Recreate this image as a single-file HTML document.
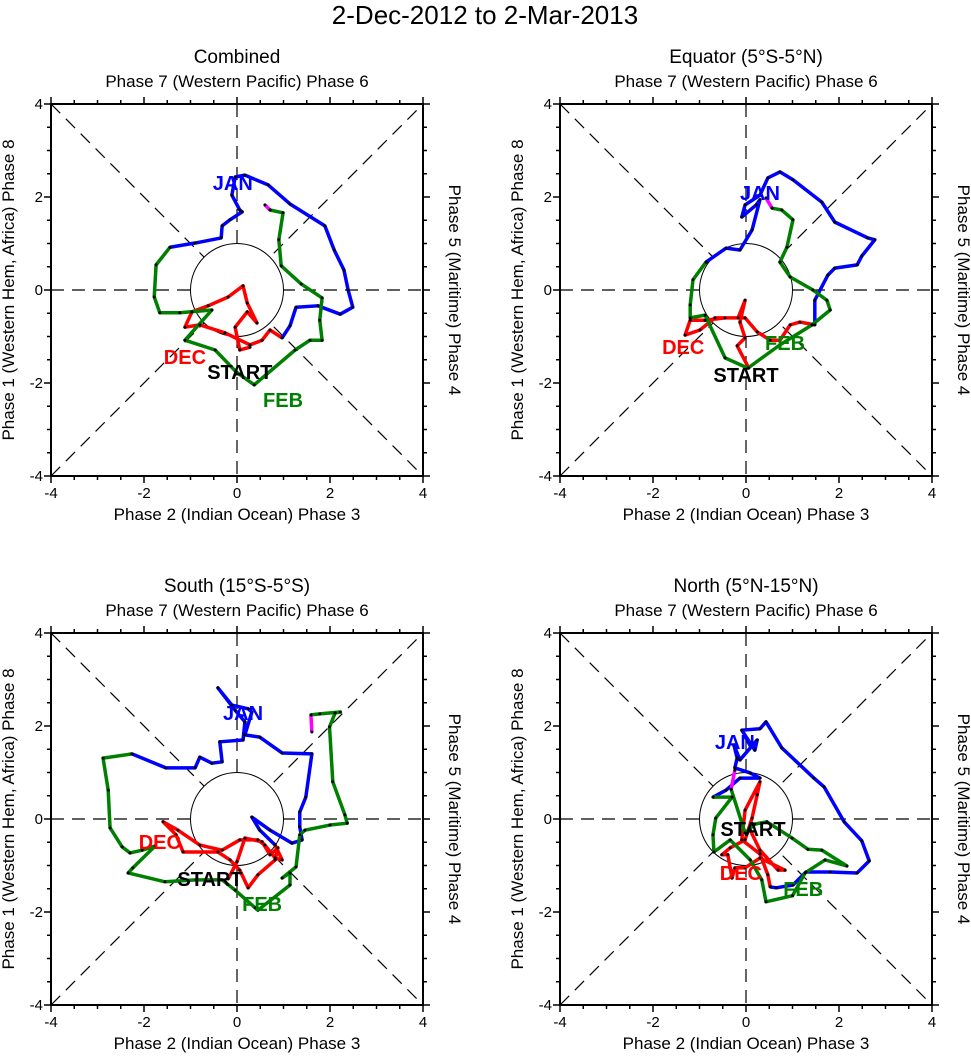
<!DOCTYPE html>
<html><head><meta charset="utf-8">
<style>
html,body{margin:0;padding:0;background:#fff;}
svg{display:block;font-family:"Liberation Sans",Arial,sans-serif;}
</style></head>
<body>
<svg id="chart" width="971" height="1057" viewBox="0 0 971 1057" xmlns="http://www.w3.org/2000/svg">
<text x="485" y="24" font-size="26" text-anchor="middle">2-Dec-2012 to 2-Mar-2013</text>
</svg>
<script>
// ---- data (RMM1, RMM2) per panel & month ----
const panelTitles = ["Combined","Equator (5°S-5°N)","South (15°S-5°S)","North (5°N-15°N)"];
const tickValues = [-4,-2,0,2,4];
const monthNames = ["DEC","JAN","FEB"];

const p1Dec = [[0.28,-1.23],[0.06,-1.29],[-0.04,-0.80],[0.22,-0.47],[0.43,-0.71],[0.22,-0.28],[0.13,0.09],[-0.19,-0.15],[-0.62,-0.34],[-0.97,-0.47],[-1.12,-0.80],[-0.80,-0.75],[-0.26,-0.92],[0.28,-1.18],[0.54,-1.08],[0.71,-0.86],[0.97,-1.03]];
const p1Jan = [[0.97,-1.03],[1.14,-0.77],[1.27,-0.37],[1.74,-0.34],[2.22,-0.52],[2.49,-0.37],[2.39,0],[2.30,0.43],[2.09,0.86],[1.89,1.38],[1.14,1.85],[0.67,2.26],[0.17,2.47],[-0.04,2.43],[-0.11,2.04],[0.06,1.72],[0.11,1.68],[-0.15,1.51],[-0.32,1.38],[-0.34,1.12],[-0.90,1.01],[-1.44,0.92]];
const p1Feb = [[-1.44,0.92],[-1.74,0.54],[-1.78,-0.15],[-1.66,-0.49],[-1.23,-0.49],[-0.54,-0.43],[-1.12,-1.08],[-0.47,-1.29],[-0.02,-1.76],[0.37,-2.04],[1.25,-1.29],[1.57,-1.08],[1.83,-1.08],[1.78,-0.65],[1.83,-0.17],[1.38,0.13],[0.95,0.52],[0.90,1.08],[0.99,1.66],[0.71,1.72]];
const p1Mar = [[0.71,1.72],[0.60,1.83]];

const p2Dec = [[0.06,-1.68],[-0.19,-1.20],[-0.02,-1.03],[-0.13,-0.69],[-0.02,-0.22],[-0.17,-0.60],[-0.67,-0.60],[-0.99,-0.86],[-1.31,-0.97],[-1.20,-0.65],[-0.88,-0.65],[-0.45,-0.60],[-0.02,-0.60],[0.24,-0.90],[0.52,-1.08],[0.73,-1.08],[0.95,-0.75],[1.16,-0.69],[1.48,-0.75]];
const p2Jan = [[1.48,-0.75],[1.48,-0.22],[1.76,0.32],[1.91,0.47],[2.39,0.54],[2.49,0.73],[2.77,1.08],[2.62,1.12],[1.91,1.46],[1.63,1.89],[1.01,2.37],[0.73,2.54],[0.47,2.41],[0.30,2.04],[-0.02,1.83],[-0.09,1.57],[0.22,1.83],[0.30,1.94],[0.13,1.29],[-0.13,0.86],[-0.43,0.90],[-0.86,0.60]];
const p2Feb = [[-0.86,0.60],[-1.14,0.22],[-1.20,-0.32],[-1.20,-0.60],[-0.88,-0.54],[-0.45,-1.46],[0.04,-1.68],[0.73,-1.18],[1.42,-0.75],[1.81,-0.43],[1.74,-0.22],[1.44,0],[0.95,0.28],[0.73,0.60],[0.88,0.92],[1.01,1.51],[0.77,1.72],[0.56,1.76]];
const p2Mar = [[0.56,1.76],[0.43,1.98]];

const p3Dec = [[-0.19,-1.29],[0,-0.92],[0.17,-0.41],[0.54,-0.49],[0.71,-0.77],[0.88,-0.62],[0.82,-0.88],[0.45,-1.20],[0.24,-1.48],[0.06,-1.10],[-0.15,-0.88],[-0.41,-0.71],[-1.16,-0.71],[-1.31,-0.34],[-1.59,-0.06],[-1.27,-0.24],[-0.80,-0.56],[-0.32,-0.67],[0.06,-0.45],[0.45,-0.45],[0.60,-0.56],[0.82,-0.84],[0.97,-0.88],[0.82,-0.56]];
const p3Jan = [[0.82,-0.56],[0.49,-0.24],[0.32,0.04],[0.71,-0.24],[1.18,-0.52],[1.40,-0.45],[1.35,-0.17],[1.35,0.15],[1.48,0.47],[1.61,1.40],[0.97,1.42],[0.49,1.76],[0.17,1.81],[0.32,2.30],[0.24,2.37],[-0.11,2.45],[-0.41,2.82],[-0.04,2.34],[0.17,2.09],[0.13,1.70],[-0.37,1.66],[-0.32,1.23],[-0.54,1.20],[-0.80,1.33],[-0.90,1.10],[-1.53,1.10],[-2.26,1.40]];
const p3Feb = [[-2.26,1.40],[-2.88,1.31],[-2.77,0.62],[-2.73,-0.19],[-2.47,-0.60],[-2.30,-0.73],[-2.04,-0.67],[-1.76,-0.58],[-2.24,-1.05],[-2.34,-1.16],[-1.55,-1.35],[-0.88,-1.31],[-0.32,-1.31],[-0.04,-1.53],[0.39,-1.91],[0.45,-1.96],[1.14,-1.42],[1.14,-1.16],[0.97,-1.27],[1.27,-1.03],[1.35,-0.34],[1.46,-0.24],[2.0,-0.13],[2.37,-0.09],[2.32,0.09],[2.06,0.80],[1.99,1.98],[2.11,2.28],[2.22,2.30],[1.78,2.26],[1.59,2.24]];
const p3Mar = [[1.59,2.24],[1.61,1.87]];

const p4Dec = [[0.09,-0.24],[0.30,-0.67],[0.69,-1.10],[0.84,-1.10],[0.30,-0.84],[-0.02,-1.05],[-0.24,-1.05],[-0.30,-1.27],[-0.39,-0.77],[-0.52,-0.77],[-0.34,-0.62],[-0.02,-0.45],[0.13,0.02],[0.24,0.52],[0.30,0.80],[-0.02,0.19],[-0.09,-0.45],[0.30,-0.75],[0.47,-1.20],[0.52,-1.46]];
const p4Jan = [[0.52,-1.46],[0.65,-1.48],[1.01,-1.42],[1.29,-1.14],[1.81,-1.14],[2.39,-1.16],[2.65,-0.90],[2.49,-0.47],[2.11,-0.06],[1.68,0.69],[1.46,0.88],[0.77,1.53],[0.43,2.09],[0.30,1.94],[-0.09,1.91],[0.19,1.48],[0.24,1.70],[-0.13,1.27],[-0.26,1.59],[-0.19,1.31],[-0.24,1.10],[0.09,0.99],[0.30,0.88],[-0.13,0.88],[-0.43,0.62],[-0.71,0.47]];
const p4Feb = [[-0.71,0.47],[-0.30,0.47],[-0.65,0.02],[-0.71,-0.34],[-0.69,-0.71],[-0.34,-0.45],[0.09,-0.88],[0.34,-1.31],[0.43,-1.78],[1.0,-1.65],[1.27,-1.16],[1.70,-0.88],[2.17,-1.01],[1.63,-0.67],[1.33,-0.65],[0.99,-0.41],[0.45,-0.06],[0.19,-0.11],[-0.02,-0.30],[-0.32,0.64]];
const p4Mar = [[-0.32,0.64],[-0.24,1.05]];

const startPos = [[0.06,-1.76],[0,-1.83],[-0.58,-1.29],[0.15,-0.22]];
const decPos = [[-1.12,-1.44],[-1.35,-1.23],[-1.66,-0.49],[-0.11,-1.16]];
const janPos = [[-0.09,2.30],[0.30,2.09],[0.13,2.28],[-0.24,1.66]];
const febPos = [[0.99,-2.37],[0.84,-1.14],[0.54,-1.83],[1.23,-1.51]];

const monthColors = ["#ff0000","#0000ff","#008000","#ff00ff"];
const panelSeries = [[p1Dec,p1Jan,p1Feb,p1Mar],[p2Dec,p2Jan,p2Feb,p2Mar],[p3Dec,p3Jan,p3Feb,p3Mar],[p4Dec,p4Jan,p4Feb,p4Mar]];
const origins = [[237,290],[746,290],[237,819],[746,819]];
const S = 46.5;

const NS = "http://www.w3.org/2000/svg";
const svg = document.getElementById("chart");
function mk(tag, attrs, parent){const e=document.createElementNS(NS,tag);for(const k in attrs)e.setAttribute(k,attrs[k]);(parent||svg).appendChild(e);return e;}

panelSeries.forEach((series, p) => {
  const [ox, oy] = origins[p];
  const sx = v => ox + v*S;
  const sy = v => oy - v*S;
  const L = sx(-4), R = sx(4), T = sy(4), B = sy(-4);
  const g = mk("g", {});
  
  
  const dash = {stroke:"#000","stroke-width":1.2,"stroke-dasharray":"13,8",fill:"none"};
  [[L,oy,R,oy],[ox,T,ox,B],[L,T,R,B],[L,B,R,T]].forEach(c=>{
    const ln = mk("line", Object.assign({x1:c[0],y1:c[1],x2:c[2],y2:c[3]},dash), g);
    
    
  });
  const circ = mk("circle", {cx:ox,cy:oy,r:S,fill:"#fff",stroke:"#000","stroke-width":1}, g);
  
  
  const fr = mk("rect", {x:L,y:T,width:R-L,height:B-T,fill:"none",stroke:"#000","stroke-width":2}, g);
  
  
  for (let v=-4; v<=4.001; v+=0.5) {
    const len = Number.isInteger(v/2) ? 7 : 4;
    mk("line",{x1:sx(v),y1:B,x2:sx(v),y2:B+len,stroke:"#000","stroke-width":1.5},g);
    mk("line",{x1:sx(v),y1:T,x2:sx(v),y2:T-len,stroke:"#000","stroke-width":1.5},g);
    mk("line",{x1:L,y1:sy(v),x2:L-len,y2:sy(v),stroke:"#000","stroke-width":1.5},g);
    mk("line",{x1:R,y1:sy(v),x2:R+len,y2:sy(v),stroke:"#000","stroke-width":1.5},g);
  }
  tickValues.forEach(v=>{
    const tx = mk("text",{x:sx(v),y:B+22,"font-size":15,"text-anchor":"middle"},g);
    tx.textContent = v;
    
    
    const ty = mk("text",{x:L-8,y:sy(v)+5,"font-size":15,"text-anchor":"end"},g);
    ty.textContent = v;
    
    
  });
  const xt = mk("text",{x:ox,y:B+44,"font-size":17,"text-anchor":"middle"},g);
  xt.textContent = "Phase 2 (Indian Ocean) Phase 3";
  
  
  const tt = mk("text",{x:ox,y:T-17,"font-size":17,"text-anchor":"middle"},g);
  tt.textContent = "Phase 7 (Western Pacific) Phase 6";
  
  
  const pt = mk("text",{x:ox,y:T-41,"font-size":19,"text-anchor":"middle"},g);
  pt.textContent = panelTitles[p];
  
  
  const lt = mk("text",{x:0,y:0,"font-size":17,"text-anchor":"middle",transform:`translate(${L-37},${oy}) rotate(-90)`},g);
  lt.textContent = "Phase 1 (Western Hem, Africa) Phase 8";
  
  
  const rt = mk("text",{x:0,y:0,"font-size":17,"text-anchor":"middle",transform:`translate(${R+26},${oy}) rotate(90)`},g);
  rt.textContent = "Phase 5 (Maritime) Phase 4";
  
  
  series.forEach((pts, m) => {
    const pl = mk("polyline",{points:pts.map(q=>sx(q[0])+","+sy(q[1])).join(" "),fill:"none",stroke:monthColors[m],"stroke-width":3.5,"stroke-linejoin":"round"},g);
    
    
  });
  series.forEach(pts => pts.forEach(q=>{
    const d = mk("circle",{cx:sx(q[0]),cy:sy(q[1]),r:1.5,fill:"#000"},g);
    
    
  }));
  [[decPos,"DEC","#ff0000"],[janPos,"JAN","#0000ff"],[febPos,"FEB","#008000"],[startPos,"START","#000"]].forEach(([pos,txt,col])=>{
    const t = mk("text",{x:sx(pos[p][0]),y:sy(pos[p][1])+7,"font-size":20,"font-weight":"bold",fill:col,"text-anchor":"middle"},g);
    t.textContent = txt;
    
    
  });
});
</script>
</body></html>
